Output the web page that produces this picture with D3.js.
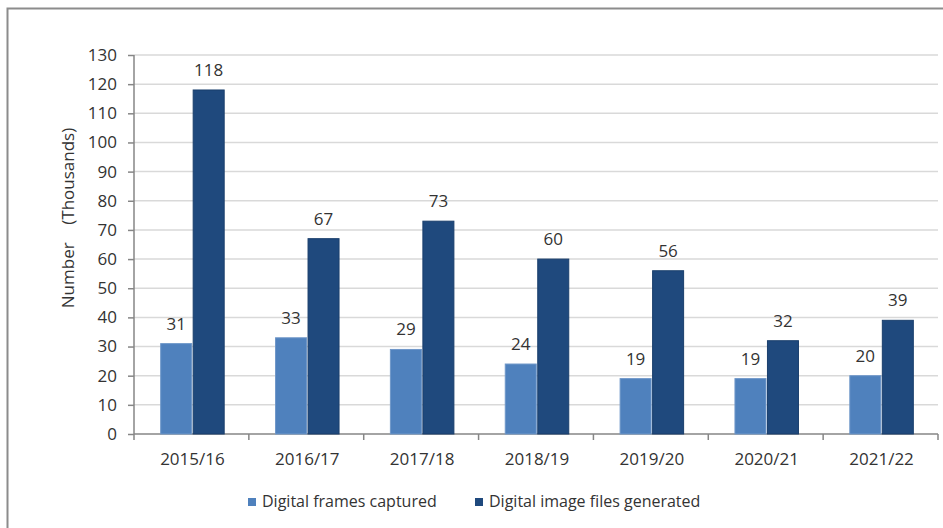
<!DOCTYPE html>
<html>
<head>
<meta charset="utf-8">
<script src="https://cdn.jsdelivr.net/npm/d3@7"></script>
<style>
  body { margin: 0; background: #fff; }
  text { font-family: "Open Sans", "Noto Sans", sans-serif; fill: #333; }
</style>
</head>
<body>
<svg id="chart" width="943" height="528"></svg>
<script>
// Chart data
var years = ["2015/16", "2016/17", "2017/18", "2018/19", "2019/20", "2020/21", "2021/22"];
var framesCaptured = [31, 33, 29, 24, 19, 19, 20];
var filesGenerated = [118, 67, 73, 60, 56, 32, 39];
var seriesNames = ["Digital frames captured", "Digital image files generated"];
var seriesColors = ["#4f81bd", "#1f497d"];
var yTicks = d3.range(0, 131, 10);

var svg = d3.select("#chart");

// outer frame
svg.append("rect")
    .attr("x", 7.5).attr("y", 8.5)
    .attr("width", 960).attr("height", 540)
    .attr("fill", "none").attr("stroke", "#8c8c8c").attr("stroke-width", 2);

var margin = {left: 134, right: 5, top: 55, bottom: 94};
var width = 938 - margin.left;
var height = 434 - margin.top;

var g = svg.append("g").attr("transform", "translate(" + margin.left + "," + margin.top + ")");

var x = d3.scaleBand().domain(years).range([0, width]);
var y = d3.scaleLinear().domain([0, 130]).range([height, 0]);

// gridlines
g.selectAll(".grid").data(yTicks.slice(1)).enter().append("line")
    .attr("x1", 0).attr("x2", width)
    .attr("y1", function(d){ return y(d); }).attr("y2", function(d){ return y(d); })
    .attr("stroke", "#d9d9d9").attr("stroke-width", 1.5);

// y axis
var yAxis = g.append("g").call(d3.axisLeft(y).tickValues(yTicks).tickSize(6).tickPadding(11));
yAxis.select(".domain").attr("stroke", "#868686").attr("stroke-width", 1.5).attr("d", "M0," + height + "V0");
yAxis.selectAll(".tick line").attr("stroke", "#868686").attr("stroke-width", 1.5);
yAxis.selectAll("text").style("font-size", "17px").attr("fill", "#333");

// x axis: ticks at category boundaries
var xg = g.append("g").attr("transform", "translate(0," + height + ")");
xg.append("line").attr("x1", 0).attr("x2", width).attr("stroke", "#868686").attr("stroke-width", 1.5);
var bounds = years.map(function(d){ return x(d); }).concat([width]);
xg.selectAll(".xt").data(bounds).enter().append("line")
    .attr("x1", function(d){ return d; }).attr("x2", function(d){ return d; })
    .attr("y1", 0).attr("y2", 6)
    .attr("stroke", "#868686").attr("stroke-width", 1.5);
xg.selectAll(".xl").data(years).enter().append("text")
    .attr("x", function(d){ return x(d) + x.bandwidth() / 2 + 1; })
    .attr("y", 31)
    .attr("text-anchor", "middle")
    .style("font-size", "17px")
    .text(function(d){ return d; });

// bars
var barW = 31, gap = 1.5;
var series = [framesCaptured, filesGenerated];
series.forEach(function(vals, si){
    var off = (si === 0 ? -gap / 2 - barW : gap / 2) + 1;
    g.selectAll(".bar" + si).data(years).enter().append("rect")
        .attr("x", function(d){ return x(d) + x.bandwidth() / 2 + off; })
        .attr("y", function(d, i){ return y(vals[i]); })
        .attr("width", barW)
        .attr("height", function(d, i){ return height - y(vals[i]); })
        .attr("fill", seriesColors[si])
        .attr("stroke", si === 0 ? "#6f97c9" : "#1a3f6c").attr("stroke-width", 1);
    g.selectAll(".lab" + si).data(years).enter().append("text")
        .attr("x", function(d){ return x(d) + x.bandwidth() / 2 + off + barW / 2; })
        .attr("y", function(d, i){ return y(vals[i]) - 14; })
        .attr("text-anchor", "middle")
        .style("font-size", "17px")
        .text(function(d, i){ return vals[i]; });
});

// y axis title
svg.append("text")
    .attr("transform", "translate(74,218) rotate(-90)")
    .attr("text-anchor", "middle")
    .style("font-size", "17px")
    .attr("xml:space", "preserve")
    .text("Number    (Thousands)");

// legend
var legX = [248, 475];
seriesNames.forEach(function(name, i){
    svg.append("rect").attr("x", legX[i]).attr("y", 498).attr("width", 8).attr("height", 8)
        .attr("fill", seriesColors[i]);
    svg.append("text").attr("x", legX[i] + 14).attr("y", 507)
        .style("font-size", "16px").text(name);
});
</script>
</body>
</html>
